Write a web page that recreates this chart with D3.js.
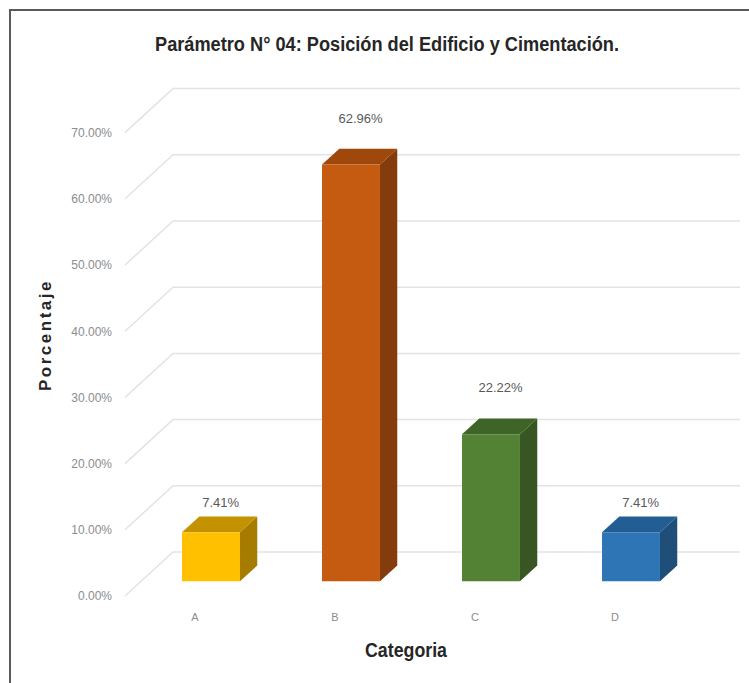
<!DOCTYPE html>
<html>
<head>
<meta charset="utf-8">
<script src="https://cdn.jsdelivr.net/npm/d3@7"></script>
<style>
  body { margin: 0; background: #fff; }
  .tick-label { font-family: "Liberation Sans", Arial, sans-serif; font-size: 12px; fill: #8c8c8c; }
  .cat-label { font-family: "Liberation Sans", Arial, sans-serif; font-size: 11px; fill: #8c8c8c; }
  .val-label { font-family: "Liberation Sans", Arial, sans-serif; font-size: 13px; fill: #595959; }
  .grid { stroke: #e3e3e3; stroke-width: 1.5; fill: none; }
</style>
</head>
<body>
<svg width="749" height="683"></svg>
<script>
var categories = ["A", "B", "C", "D"];
var values = [7.41, 62.96, 22.22, 7.41];
var tickValues = [0, 10, 20, 30, 40, 50, 60, 70];
var frontColors = ["#FFC000", "#C55A11", "#548235", "#2E75B6"];
var topColors = ["#C49200", "#A0470C", "#3F6427", "#225D94"];
var sideColors = ["#A67C00", "#843C0C", "#375623", "#1F4E79"];

var svg = d3.select("svg");

// oblique depth: t=1 goes from front plane to back wall
var depthX = 48, depthY = -44;
function proj(x, y, t) { return [x + depthX * t, y + depthY * t]; }

var x = d3.scaleBand().domain(categories).range([125, 685])
    .paddingInner(0.586).paddingOuter(0.293);
var y = d3.scaleLinear().domain([0, 70]).range([596, 596 - 70 * 6.62]);

// frame
svg.append("rect")
    .attr("x", 10).attr("y", 10)
    .attr("width", 760).attr("height", 700)
    .attr("fill", "none").attr("stroke", "#5a5a5a").attr("stroke-width", 2);

// title (condensed like Arial Narrow)
svg.append("text")
    .attr("x", 387).attr("y", 51)
    .attr("text-anchor", "middle")
    .attr("textLength", 464).attr("lengthAdjust", "spacingAndGlyphs")
    .style("font-family", "'Liberation Sans Narrow', 'Arial Narrow', 'Liberation Sans', sans-serif")
    .style("font-weight", "bold").style("font-size", "20px").style("fill", "#262626")
    .text("Parámetro N° 04: Posición del Edificio y Cimentación.");

// gridlines: diagonal on side wall + horizontal on back wall
var grid = svg.append("g");
tickValues.forEach(function(v) {
    var p0 = [125, y(v)], p1 = proj(125, y(v), 1);
    grid.append("path").attr("class", "grid")
        .attr("d", "M" + p0 + "L" + p1 + "L" + [740, p1[1]]);
});

// y axis labels
var yAxis = svg.append("g")
    .attr("transform", "translate(118,0)")
    .call(d3.axisLeft(y).tickValues(tickValues).tickSize(0).tickPadding(6)
        .tickFormat(function(d){ return d.toFixed(2) + "%"; }));
yAxis.select(".domain").remove();
yAxis.selectAll("text").attr("class", "tick-label").attr("fill", null)
    .style("font-family", null).style("font-size", null);
yAxis.attr("font-family", null).attr("font-size", null);

// bars
var tFront = 1 / 3, tBack = tFront + 0.36;
var bars = svg.selectAll(".bar").data(values).enter().append("g").attr("class", "bar");

bars.each(function(d, i) {
    var g = d3.select(this);
    var xl = x(categories[i]), xr = xl + x.bandwidth();
    var fl0 = proj(xl, y(0), tFront), fr0 = proj(xr, y(0), tFront);
    var fl1 = proj(xl, y(d), tFront), fr1 = proj(xr, y(d), tFront);
    var bl1 = proj(xl, y(d), tBack), br1 = proj(xr, y(d), tBack), br0 = proj(xr, y(0), tBack);
    g.append("path").attr("fill", sideColors[i])
        .attr("d", "M" + fr0 + "L" + fr1 + "L" + br1 + "L" + br0 + "Z");
    g.append("path").attr("fill", topColors[i])
        .attr("d", "M" + fl1 + "L" + fr1 + "L" + br1 + "L" + bl1 + "Z");
    g.append("path").attr("fill", frontColors[i])
        .attr("d", "M" + fl0 + "L" + fl1 + "L" + fr1 + "L" + fr0 + "Z");
    // excel pushes labels of the taller bars further up
    var c = proj(x(categories[i]) + x.bandwidth() / 2, y(d), tFront + 0.2);
    g.append("text").attr("class", "val-label")
        .attr("x", c[0]).attr("y", c[1] - (d > 15 ? 33 : 16))
        .attr("text-anchor", "middle")
        .text(d.toFixed(2) + "%");
});

// category labels (front plane)
svg.selectAll(".cat-label").data(categories).enter().append("text")
    .attr("class", "cat-label")
    .attr("x", function(d){ return x(d) + x.bandwidth() / 2; })
    .attr("y", 621)
    .attr("text-anchor", "middle")
    .text(function(d){ return d; });

// axis titles
svg.append("text")
    .attr("x", 406).attr("y", 657)
    .attr("text-anchor", "middle")
    .attr("textLength", 82).attr("lengthAdjust", "spacingAndGlyphs")
    .style("font-family", "'Liberation Sans Narrow', 'Arial Narrow', 'Liberation Sans', sans-serif")
    .style("font-weight", "bold").style("font-size", "20px").style("fill", "#262626")
    .text("Categoria");

svg.append("text")
    .attr("transform", "translate(51,335) rotate(-90)")
    .attr("text-anchor", "middle")
    .style("font-family", "'Liberation Sans', Arial, sans-serif")
    .style("font-weight", "bold").style("font-size", "17px").style("fill", "#262626")
    .style("letter-spacing", "2.5px")
    .text("Porcentaje");
</script>
</body>
</html>
